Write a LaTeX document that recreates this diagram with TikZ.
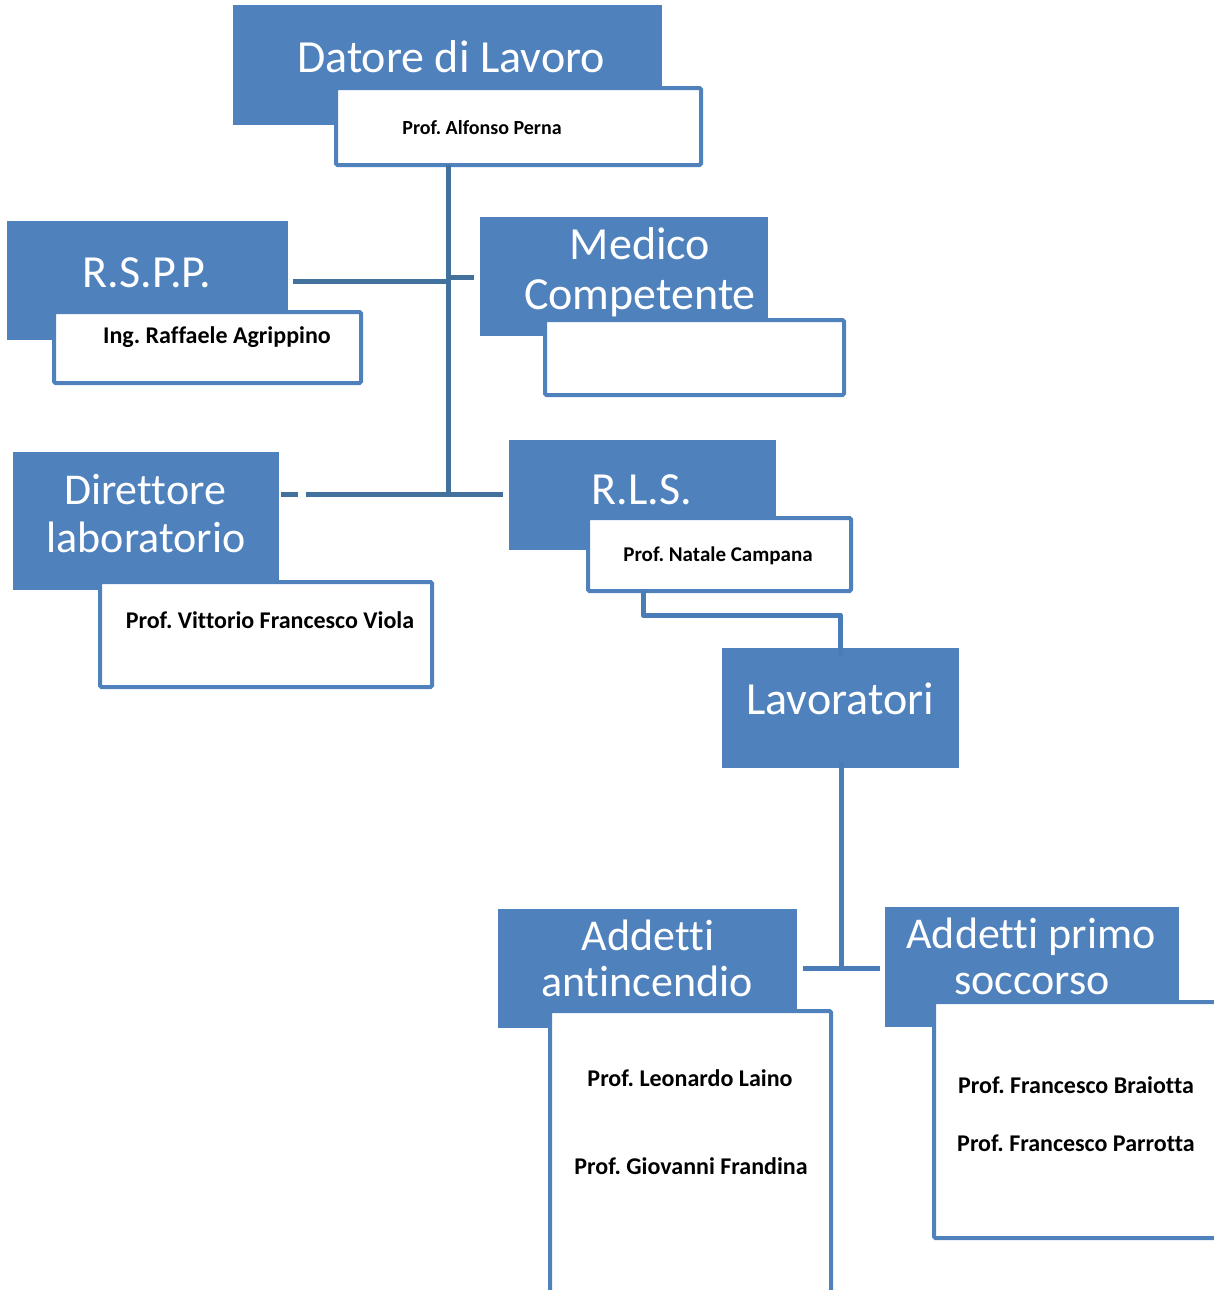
\documentclass[tikz,border=0pt]{standalone}
\usepackage{fontspec}
\setmainfont{Carlito}[Ligatures=NoCommon]
\frenchspacing
\definecolor{boxblue}{HTML}{4F81BD}
\definecolor{linedark}{HTML}{41719C}
\definecolor{linemid}{HTML}{4A7CB8}
\begin{document}
\begin{tikzpicture}[x=1pt,y=-1pt,
  hd/.style={fill=boxblue, draw=none, inner sep=0pt, outer sep=0pt, anchor=north west},
  nm/.style={fill=white, draw=boxblue, line width=4pt, rounded corners=1.5pt, inner sep=0pt, outer sep=0pt, anchor=north west},
  ttl/.style={text=white, font=\fontsize{46}{48}\selectfont, anchor=base, inner sep=0pt},
  ttls/.style={ttl, font=\fontsize{44}{46}\selectfont},
  who/.style={text=black, font=\bfseries\fontsize{24}{26}\selectfont, anchor=base, inner sep=0pt},
  trunk/.style={draw=linedark, line width=5pt},
  link/.style={draw=linemid, line width=5pt, line join=round}]
\useasboundingbox (0,0) rectangle (1213,1290);

% header boxes
\node[hd, minimum width=429, minimum height=120] (datore) at (233,5) {};
\node[hd, minimum width=281, minimum height=119] (rspp) at (7,221) {};
\node[hd, minimum width=288, minimum height=119] (medico) at (480,217) {};
\node[hd, minimum width=266, minimum height=138] (dirett) at (13,452) {};
\node[hd, minimum width=267, minimum height=110] (rls) at (509,440) {};
\node[hd, minimum width=237, minimum height=120] (lavor) at (722,648) {};
\node[hd, minimum width=299, minimum height=119] (antinc) at (498,909) {};
\node[hd, minimum width=294, minimum height=120] (primo) at (885,907) {};

% name boxes
\node[nm, minimum width=365, minimum height=77] (perna) at (336,88) {};
\node[nm, minimum width=307, minimum height=71] (agripp) at (54,312) {};
\node[nm, minimum width=299, minimum height=75] (medname) at (545,320) {};
\node[nm, minimum width=332, minimum height=105] (viola) at (100,582) {};
\node[nm, minimum width=263, minimum height=73] (campana) at (588,518) {};
\node[nm, minimum width=281, minimum height=300] (antname) at (550,1011) {};
\node[nm, minimum width=300, minimum height=236] (primname) at (934,1002) {};

% titles
\node[ttl] (tdatore) at (451,72) {Datore di Lavoro};
\node[ttl] (trspp) at (147,287) {R.S.P.P.};
\node[ttl] (tmed1) at (640,259) {Medico};
\node[ttl] (tmed2) at (640,309) {Competente};
\node[ttls] (tdir1) at (145,504) {Direttore};
\node[ttls] (tdir2) at (146,552) {laboratorio};
\node[ttl] (trls) at (642,504) {R.L.S.};
\node[ttl] (tlav) at (840,714) {Lavoratori};
\node[ttls] (tant1) at (648,950) {Addetti};
\node[ttls] (tant2) at (647,996) {antincendio};
\node[ttls] (tpri1) at (1031,948) {Addetti primo};
\node[ttls] (tpri2) at (1032,994) {soccorso};

% names
\node[who, font=\bfseries\fontsize{20}{22}\selectfont] (nperna) at (482,134) {Prof. Alfonso Perna};
\node[who] (nagr) at (217,343) {Ing. Raffaele Agrippino};
\node[who] (nviola) at (270,628) {Prof. Vittorio Francesco Viola};
\node[who, font=\bfseries\fontsize{21}{23}\selectfont] (ncamp) at (718,561) {Prof. Natale Campana};
\node[who] (nlaino) at (690,1086) {Prof. Leonardo Laino};
\node[who] (nfrand) at (691,1174) {Prof. Giovanni Frandina};
\node[who] (nbraio) at (1076,1093) {Prof. Francesco Braiotta};
\node[who] (nparr) at (1076,1151) {Prof. Francesco Parrotta};

% connectors
\coordinate (jr) at (448,281);
\coordinate (jm) at (448,277);
\coordinate (jb) at (448,494);
\draw[trunk] (perna.south -| jb) -- (jb);
\draw[trunk] ([xshift=5pt]rspp.east |- jr) -- (jr);
\draw[trunk] (jm) -- ([xshift=-6pt]medico.west |- jm);
\draw[trunk] ([xshift=2pt]dirett.east |- jb) -- ([xshift=19pt]dirett.east |- jb);
\draw[trunk] ([xshift=27pt]dirett.east |- jb) -- ([xshift=-6pt]rls.west |- jb);

\coordinate (cr) at (643,615);
\draw[link] (campana.south -| cr) -- (cr) -- (cr -| lavor.north) -- ([yshift=-8pt]lavor.north);

\coordinate (jl) at (841,968);
\draw[link] ([yshift=6pt]lavor.south -| jl) -- (jl);
\draw[link] ([xshift=6pt]antinc.east |- jl) -- ([xshift=-5pt]primo.west |- jl);
\end{tikzpicture}
\end{document}
